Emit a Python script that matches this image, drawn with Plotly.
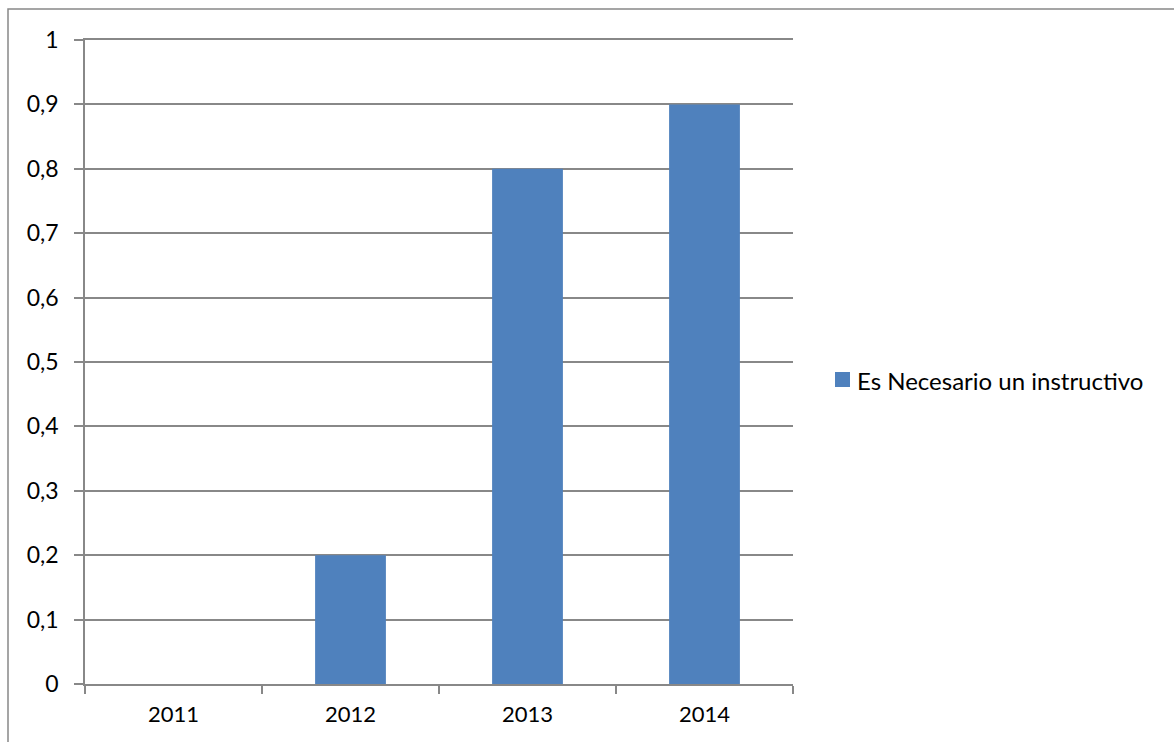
import plotly.graph_objects as go

years = ["2011", "2012", "2013", "2014"]
values = [0, 0.2, 0.8, 0.9]
series_name = "Es Necesario un instructivo"
y_ticks = [0, 0.1, 0.2, 0.3, 0.4, 0.5, 0.6, 0.7, 0.8, 0.9, 1]
bar_color = "#4F81BD"

W, H = 1174, 742
L, R, T, B = 85, 381, 40, 58
pw, ph = W - L - R, H - T - B
grid = "#888888"
FONT = "Lato, Liberation Sans, Arial, sans-serif"


def px_x(x):
    return (x - L) / pw


def px_y(y):
    return 1 - (y - T) / ph


fig = go.Figure()
fig.add_trace(go.Bar(
    x=years, y=values, name=series_name,
    marker=dict(color=bar_color, line=dict(width=0)),
    width=0.4, showlegend=False,
))

fig.update_layout(
    width=W, height=H,
    margin=dict(l=L, r=R, t=T, b=B, pad=0),
    paper_bgcolor="white", plot_bgcolor="white",
    separators=",.",
    font=dict(family=FONT, size=22, color="#000000"),
    showlegend=False,
    xaxis=dict(
        type="category", showgrid=False, showline=True, linecolor=grid, linewidth=1.5,
        mirror=True,
        ticks="outside", tickson="boundaries", ticklen=8, tickcolor=grid, tickwidth=1.5,
        ticklabelstandoff=10,
    ),
    yaxis=dict(
        range=[0, 1], tickvals=y_ticks, showgrid=True, gridcolor=grid, gridwidth=1.5,
        showline=True, linecolor=grid, linewidth=1.5, zeroline=False,
        ticks="outside", ticklen=9, tickcolor=grid, tickwidth=1.5,
        ticklabelstandoff=11, tickfont=dict(size=23),
    ),
)

# legend key: colour swatch and series name
fig.add_shape(type="rect", xref="paper", yref="paper",
              x0=px_x(835), x1=px_x(850), y0=px_y(387), y1=px_y(372),
              line=dict(width=0), fillcolor=bar_color)
fig.add_annotation(xref="paper", yref="paper", x=px_x(855), y=px_y(380),
                   xanchor="left", yanchor="middle", showarrow=False,
                   text=series_name, font=dict(family=FONT, size=24, color="#000000"))

# outer chart border
fig.add_shape(type="rect", xref="paper", yref="paper",
              x0=px_x(8), x1=px_x(W + 20),
              y0=px_y(H + 20), y1=px_y(9),
              line=dict(color=grid, width=1.5), fillcolor="rgba(0,0,0,0)", layer="below")

fig.write_html("out.html")
